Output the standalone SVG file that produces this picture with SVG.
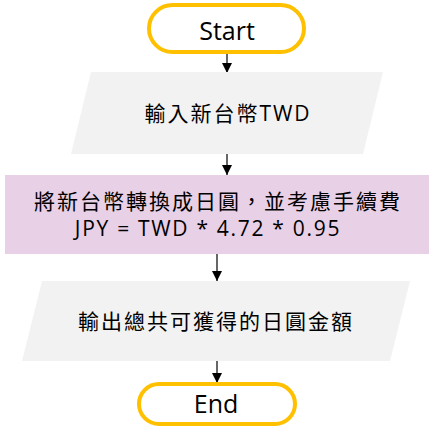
<svg xmlns="http://www.w3.org/2000/svg" width="435" height="432" viewBox="0 0 435 432">
<style>
.term{fill:#fff;stroke:#FFC000;stroke-width:4}
.io{fill:#F2F2F2}
.proc{fill:#E8D0E6}
.lat{font-family:"Open Sans","Noto Sans CJK TC",sans-serif;font-size:25px;fill:#000;text-anchor:middle}
.cjk{font-family:"Open Sans","Noto Sans CJK TC",sans-serif;font-size:21px;letter-spacing:2px;fill:#000;text-anchor:middle}
.edge{stroke:#000;stroke-width:1.2;fill:none}
</style>
<defs>
<marker id="ah" markerUnits="userSpaceOnUse" markerWidth="10" markerHeight="10" refX="10" refY="5" orient="auto">
<path d="M0,0 L10,5 L0,10 z" fill="#000"/>
</marker>
</defs>
<g id="connectors">
<line class="edge" x1="227" y1="54" x2="227" y2="73" marker-end="url(#ah)"/>
<line class="edge" x1="227" y1="154" x2="227" y2="175" marker-end="url(#ah)"/>
<line class="edge" x1="217" y1="254" x2="217" y2="281" marker-end="url(#ah)"/>
<line class="edge" x1="217" y1="361" x2="217" y2="383" marker-end="url(#ah)"/>
</g>
<g id="start">
<rect class="term" x="149" y="5" width="155" height="47" rx="23.5"/>
<text class="lat" x="227" y="40">Start</text>
</g>
<g id="input">
<polygon class="io" points="91,72 383,72 363,154 71,154"/>
<text class="cjk" x="228" y="121">輸入新台幣TWD</text>
</g>
<g id="process">
<rect class="proc" x="5" y="175" width="424" height="79"/>
<text class="cjk" x="218" y="209">將新台幣轉換成日圓，並考慮手續費</text>
<text class="cjk" x="208" y="236" style="letter-spacing:1.7px">JPY = TWD * 4.72 * 0.95</text>
</g>
<g id="output">
<polygon class="io" points="42,281 410,281 390,361 22,361"/>
<text class="cjk" x="216" y="328.5">輸出總共可獲得的日圓金額</text>
</g>
<g id="end">
<rect class="term" x="139" y="384" width="156" height="40" rx="20"/>
<text class="lat" x="216" y="413">End</text>
</g>
</svg>
